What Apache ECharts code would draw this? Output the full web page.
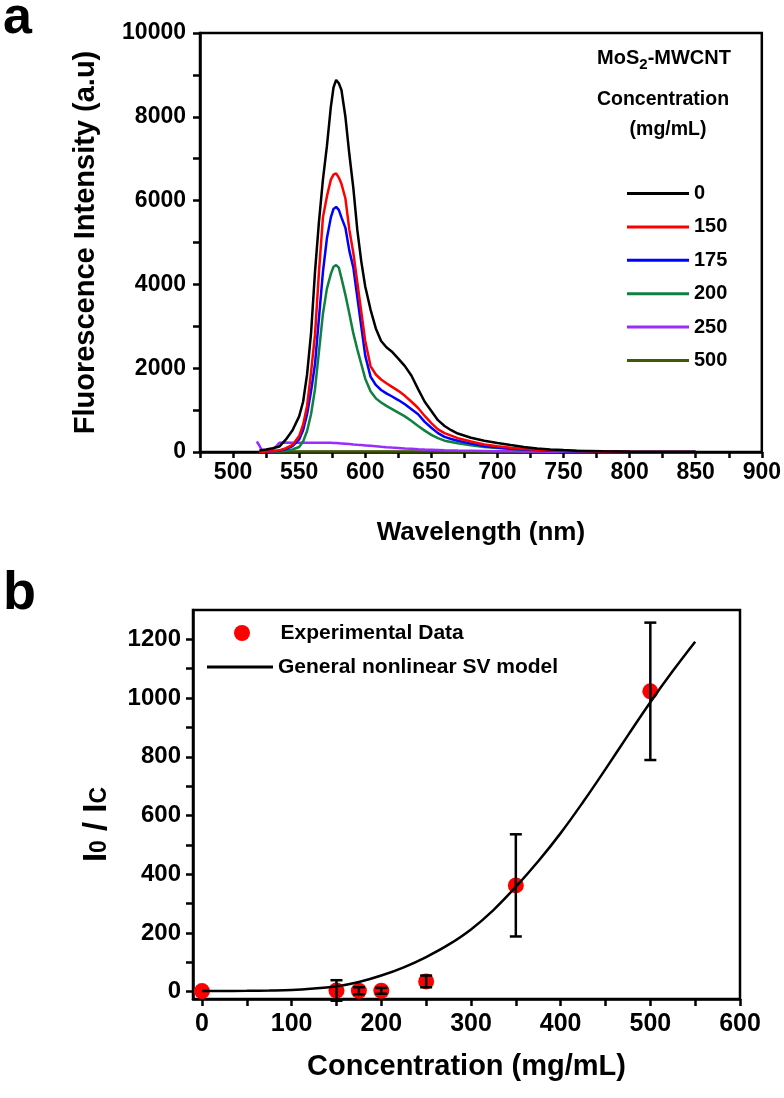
<!DOCTYPE html>
<html><head><meta charset="utf-8">
<script src="https://cdn.jsdelivr.net/npm/echarts@6/dist/echarts.min.js"></script>
<style>html,body{margin:0;padding:0;background:#fff}#c{width:784px;height:1098px}</style>
</head><body><div id="c"></div>
<script>
// ---------- Panel a: fluorescence spectra ----------
const wavelengths = [518,520,522,525,530,535,540,545,550,553,556,559,562,565,568,571,574,576,578,580,582,585,588,591,594,597,600,604,608,612,616,620,625,630,635,640,645,650,655,660,665,670,680,690,700,710,720,730,740,750,760,780,800,820,850];
const conc0   = [null,30,50,60,90, 130,300,520,850,1200, 1850,2830,4300,5500,6500, 7300,8240,8700,8880,8800, 8640,8000,7100,6300,5300, 4550,3950,3400,2950,2650, 2500,2400,2230,2050,1820, 1500,1200,980,760,620, 520,440,340,270,215, 165,120,85,62,45, 32,15,6,2,0];
const conc150 = [null,0,0,10,20, 40,90,170,380,650, 1100,1900,2800,4300,5600, 6100,6500,6620,6650,6550, 6400,6050,5300,4750,4050, 3350,2650,2050,1850,1730, 1640,1560,1460,1340,1200, 1050,860,690,540,450, 390,330,250,180,135, 100,72,52,40,30, 24,10,5,2,0];
const conc175 = [null,0,0,5,15, 30,70,140,300,520, 900,1450,2100,3200,4300, 5100,5600,5800,5850,5780, 5600,5350,4800,4400,3700, 3000,2300,1800,1600,1480, 1400,1330,1240,1140,1020, 900,720,580,450,360, 310,270,200,140,105, 80,60,45,35,25, 20,10,5,2,0];
const conc200 = [null,0,0,0,5, 15,30,60,120,250, 500,900,1500,2400,3300, 3900,4250,4420,4460,4400, 4150,3750,3300,2830,2450, 2100,1750,1450,1280,1180, 1100,1030,940,850,740, 620,510,410,330,270, 240,210,160,120,95, 75,55,40,30,22, 15,8,3,1,0];
const conc250 = [250,150,20,20,40, 220,225,222,220,220, 222,220,221,220,219, 220,218,215,212,208, 204,198,190,180,172, 165,158,148,138,126, 115,105,95,85,77, 68,60,54,48,42, 38,34,30,25,20, 16,13,10,8,6, 5,3,2,1,0];
const conc500 = [null,null,null,5,8, 10,12,12,12,12, 12,12,12,12,12, 12,12,12,12,12, 12,12,12,12,12, 12,12,12,12,12, 12,12,12,12,12, 12,12,12,12,12, 12,12,12,12,12, 12,12,12,12,12, 10,10,8,8,5];
const spectraNames = ['0','150','175','200','250','500'];
const spectraColors = ['#000000','#ff0000','#0000ff','#108040','#9a2cff','#3f5a00'];
const spectraValues = [conc0, conc150, conc175, conc200, conc250, conc500];
const yTicksA = [0,2000,4000,6000,8000,10000];

// ---------- Panel b: Stern-Volmer ----------
const concentration = [0,150,175,200,250,350,500];
const ratio = [2,4,3,3,35,362,1023];
const ratioErr = [0,35,12,10,20,174,234];
const fitConc = [0,50,75,100,125,150,175,200,225,250,275,300,325,350,375,400,425,450,475,500,525,550];
const fitRatio = [2,3,4,6,11,18,33,55,83,118,160,212,278,357,444,540,646,758,873,986,1092,1192];
const xTicksB = [0,100,200,300,400,500,600];
const xMinorB = [0,50,100,150,200,250,300,350,400,450,500,550,600];
const yTicksB = [0,200,400,600,800,1000,1200];
const yMinorB = [0,100,200,300,400,500,600,700,800,900,1000,1100,1200];

const FF = '"Liberation Sans", Arial, sans-serif';
const axisBase = {
  axisLine: {onZero: false, lineStyle: {color: '#000', width: 2.5}},
  axisTick: {inside: false, length: 7, lineStyle: {color: '#000', width: 2.5}},
  splitLine: {show: false},
  axisLabel: {color: '#000', fontFamily: FF, fontWeight: 'bold', fontSize: 23}
};
function merge(a, b) { return Object.assign({}, a, b); }

const chart = echarts.init(document.getElementById('c'), null, {renderer: 'canvas'});

const seriesA = [];
for (let k = spectraNames.length - 1; k >= 0; k--) {
  seriesA.push({
    name: spectraNames[k], type: 'line', xAxisIndex: 0, yAxisIndex: 0,
    showSymbol: false, symbol: 'none', connectNulls: false,
    lineStyle: {color: spectraColors[k], width: 2.5},
    itemStyle: {color: spectraColors[k]},
    data: wavelengths.map((w, i) => [w, spectraValues[k][i]]),
    z: 2
  });
}

const legendText = size => ({color: '#000', fontFamily: FF, fontWeight: 'bold', fontSize: size, lineHeight: size + 1});

const option = {
  animation: false,
  backgroundColor: '#fff',
  grid: [
    {left: 200, top: 33, right: 21, bottom: 646, show: true, borderColor: '#000', borderWidth: 2.5, containLabel: false},
    {left: 193, top: 610, right: 44, bottom: 99, show: true, borderColor: '#000', borderWidth: 2.5, containLabel: false}
  ],
  xAxis: [
    merge(axisBase, {
      type: 'value', gridIndex: 0, min: 475, max: 900, interval: 25,
      axisLabel: merge(axisBase.axisLabel, {margin: 9, formatter: v => (v % 50 === 0 ? String(v) : '')}),
      axisTick: merge(axisBase.axisTick, {length: 6}),
      name: 'Wavelength (nm)', nameLocation: 'middle', nameGap: 68,
      nameTextStyle: {color: '#000', fontFamily: FF, fontWeight: 'bold', fontSize: 26}
    }),
    merge(axisBase, {
      type: 'value', gridIndex: 1, min: -10, max: 600,
      axisLabel: merge(axisBase.axisLabel, {margin: 13, fontSize: 25, customValues: xTicksB, formatter: v => String(v)}),
      axisTick: merge(axisBase.axisTick, {customValues: xMinorB}),
      name: 'Concentration (mg/mL)', nameLocation: 'middle', nameGap: 53,
      nameTextStyle: {color: '#000', fontFamily: FF, fontWeight: 'bold', fontSize: 29}
    })
  ],
  yAxis: [
    merge(axisBase, {
      type: 'value', gridIndex: 0, min: 0, max: 10000, interval: 1000,
      axisLabel: merge(axisBase.axisLabel, {margin: 14, formatter: v => (yTicksA.indexOf(v) >= 0 ? String(v) : '')}),
      name: 'Fluorescence Intensity (a.u)', nameLocation: 'middle', nameGap: 100,
      nameTextStyle: {color: '#000', fontFamily: FF, fontWeight: 'bold', fontSize: 29}
    }),
    merge(axisBase, {
      type: 'value', gridIndex: 1, min: -25, max: 1300,
      axisLabel: merge(axisBase.axisLabel, {margin: 12, fontSize: 24, customValues: yTicksB, formatter: v => String(v)}),
      axisTick: merge(axisBase.axisTick, {customValues: yMinorB}),
      name: '{i|I}{o|0}{i| / I}{c|C}', nameLocation: 'middle', nameGap: 80,
      nameTextStyle: {color: '#000', fontFamily: FF, fontWeight: 'bold', fontSize: 33, padding: [0, 40, 0, 0],
        rich: {
          i: {fontFamily: FF, fontWeight: 'bold', fontSize: 33, color: '#000'},
          o: {fontFamily: FF, fontWeight: 'bold', fontSize: 23, color: '#000', padding: [6, 0, 0, 0]},
          c: {fontFamily: FF, fontWeight: 'bold', fontSize: 23, color: '#000', padding: [6, 0, 0, 0]}
        }}
    })
  ],
  legend: [
    {
      data: spectraNames, orient: 'vertical', left: 622, top: 178,
      itemWidth: 62, itemHeight: 3, itemGap: 12.4, icon: 'rect',
      textStyle: legendText(20)
    },
    {
      data: ['Experimental Data'], orient: 'vertical', left: 229, top: 617,
      itemWidth: 67, itemHeight: 16,
      textStyle: legendText(21)
    },
    {
      data: ['General nonlinear SV model'], orient: 'vertical', left: 202, top: 651,
      itemWidth: 66, itemHeight: 3, icon: 'rect',
      textStyle: legendText(21)
    }
  ],
  graphic: [
    {type: 'text', x: 3, y: 19, style: {text: 'a', font: 'bold 52px ' + FF, fill: '#000', verticalAlign: 'middle'}},
    {type: 'text', x: 3, y: 594, style: {text: 'b', font: 'bold 54px ' + FF, fill: '#000', verticalAlign: 'middle'}},
    {type: 'text', x: 664, y: 58, style: {
      text: '{m|MoS}{s|2}{m|-MWCNT}', align: 'center', verticalAlign: 'middle',
      rich: {
        m: {fontFamily: FF, fontWeight: 'bold', fontSize: 20, fill: '#000', color: '#000'},
        s: {fontFamily: FF, fontWeight: 'bold', fontSize: 15, fill: '#000', color: '#000', padding: [13, 0, 0, 0]}
      }}},
    {type: 'text', x: 663, y: 100, style: {text: 'Concentration', font: 'bold 19.5px ' + FF, fill: '#000', align: 'center', verticalAlign: 'middle'}},
    {type: 'text', x: 668, y: 130, style: {text: '(mg/mL)', font: 'bold 19.5px ' + FF, fill: '#000', align: 'center', verticalAlign: 'middle'}}
  ],
  series: seriesA.concat([
    {
      name: 'Experimental Data', type: 'scatter', xAxisIndex: 1, yAxisIndex: 1,
      symbol: 'circle', symbolSize: 16, itemStyle: {color: '#ff0000', opacity: 1},
      data: concentration.map((c, i) => [c, ratio[i]]), z: 3
    },
    {
      name: 'General nonlinear SV model', type: 'line', xAxisIndex: 1, yAxisIndex: 1,
      symbol: 'none', showSymbol: false, smooth: 0.4,
      lineStyle: {color: '#000', width: 2.5}, itemStyle: {color: '#000'},
      data: fitConc.map((c, i) => [c, fitRatio[i]]), z: 5
    },
    {
      name: 'errors', type: 'custom', xAxisIndex: 1, yAxisIndex: 1, z: 4,
      data: concentration.map((c, i) => [c, ratio[i] - ratioErr[i], ratio[i] + ratioErr[i]]),
      encode: {x: 0, y: [1, 2]},
      renderItem: function (params, api) {
        const x = api.value(0), lo = api.value(1), hi = api.value(2);
        if (hi - lo <= 0) return null;
        const p1 = api.coord([x, lo]), p2 = api.coord([x, hi]);
        const cap = 6, st = {stroke: '#000', lineWidth: 2.5};
        return {type: 'group', children: [
          {type: 'line', shape: {x1: p1[0], y1: p1[1], x2: p2[0], y2: p2[1]}, style: st},
          {type: 'line', shape: {x1: p1[0] - cap, y1: p1[1], x2: p1[0] + cap, y2: p1[1]}, style: st},
          {type: 'line', shape: {x1: p2[0] - cap, y1: p2[1], x2: p2[0] + cap, y2: p2[1]}, style: st}
        ]};
      }
    }
  ])
};
chart.setOption(option);
</script></body></html>
